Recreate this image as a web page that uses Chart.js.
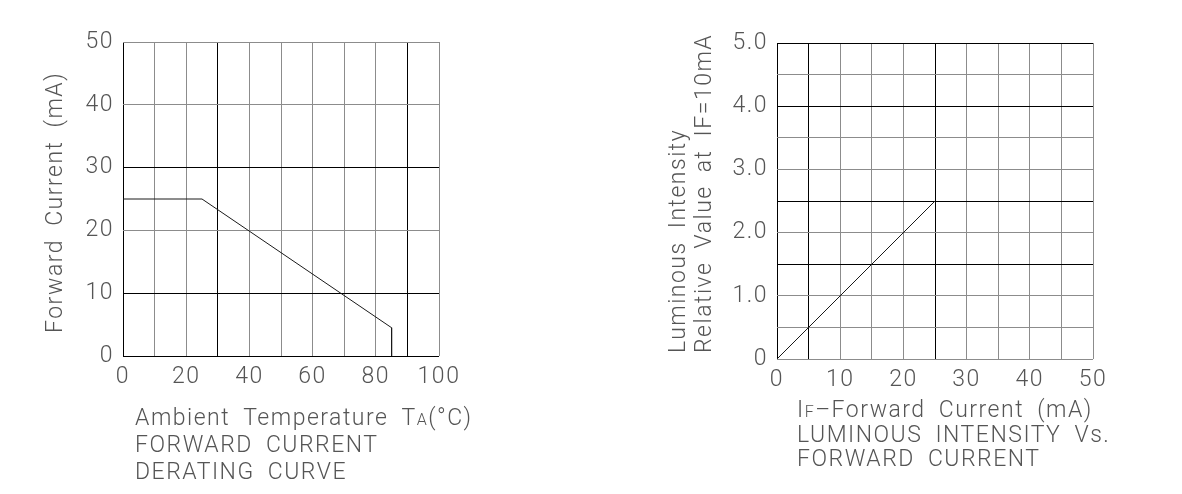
<!DOCTYPE html>
<html>
<head>
<meta charset="utf-8">
<script src="https://cdn.jsdelivr.net/npm/chart.js@4/dist/chart.umd.min.js"></script>
<style>
  html,body{margin:0;padding:0;background:#fff;}
  #wrap{position:relative;width:1182px;height:494px;overflow:hidden;}
  .box{position:absolute;top:0;width:591px;height:494px;}
  canvas{display:block;}
</style>
</head>
<body>
<div id="wrap">
  <div class="box" style="left:0"><canvas id="c1" width="591" height="494"></canvas></div>
  <div class="box" style="left:591px"><canvas id="c2" width="591" height="494"></canvas></div>
</div>
<script>
// ---------- data: derating curve ----------
const derTemp    = [0, 25, 85, 85];      // ambient temperature (°C)
const derCurrent = [25, 25, 4.5, 0];     // forward current (mA)
const derXMin = 0, derXMax = 100, derXStep = 10, derXLabelEvery = 20;
const derYMin = 0, derYMax = 50, derYStep = 10;
const derXDark = [0, 30, 90];
const derYDark = [0, 10, 30];

// ---------- data: luminous intensity vs forward current ----------
const lumCurrent = [0, 25];              // forward current (mA)
const lumRel     = [0, 2.5];             // relative luminous intensity
const lumXMin = 0, lumXMax = 50, lumXStep = 5, lumXLabelEvery = 10;
const lumYMin = 0, lumYMax = 5, lumYStep = 0.5, lumYLabelEvery = 1;
const lumXDark = [0, 5, 25];
const lumYDark = [1.5, 2.5, 4, 5];

// ---------- texts ----------
const derYTitle = ['Forward Current (mA)'];
const derXTitle = [
  [{t:'Ambient Temperature T'},{t:'A',small:true},{t:'(°C)'}],
  [{t:'FORWARD CURRENT'}],
  [{t:'DERATING CURVE'}]
];
const lumYTitle = ['Luminous Intensity', 'Relative Value at IF=10mA'];
const lumXTitle = [
  [{t:'I'},{t:'F',small:true},{t:'–Forward Current (mA)'}],
  [{t:'LUMINOUS INTENSITY Vs.'}],
  [{t:'FORWARD CURRENT'}]
];

const FONT = 'Roboto';
const FSIZE = 23;
const TXT = '#555555';
const DARK = '#000000';
const LIGHT = '#8c8c8c';
const LSP = '1.5px';
const WSP = '6px';

function gridColor(dark){
  return (c) => (c.tick && dark.some(v => Math.abs(v - c.tick.value) < 1e-9)) ? DARK : LIGHT;
}

const spacingPlugin = {
  id: 'spacing',
  beforeDraw(chart){
    chart.ctx.letterSpacing = LSP;
    chart.ctx.wordSpacing = WSP;
  }
};

function drawRich(ctx, pieces, x, y){
  let cx = x;
  for (const p of pieces){
    ctx.font = '300 ' + (p.small ? Math.round(FSIZE*0.68) : FSIZE) + 'px ' + FONT;
    ctx.fillText(p.t, cx, y);
    cx += ctx.measureText(p.t).width;
  }
}

function titlesPlugin(cfg){
  return {
    id: 'titles',
    afterDraw(chart){
      const ctx = chart.ctx;
      ctx.save();
      ctx.letterSpacing = LSP;
      ctx.wordSpacing = WSP;
      ctx.fillStyle = TXT;
      ctx.textAlign = 'left';
      ctx.textBaseline = 'alphabetic';
      cfg.x.forEach((line, i) => drawRich(ctx, line, cfg.xPos[0], cfg.xPos[1] + i*cfg.xGap));
      cfg.y.forEach((txt, i) => {
        ctx.save();
        ctx.translate(cfg.yPos[i][0], cfg.yPos[i][1]);
        ctx.rotate(-Math.PI/2);
        ctx.font = '300 ' + FSIZE + 'px ' + FONT;
        ctx.fillText(txt, 0, 0);
        ctx.restore();
      });
      ctx.restore();
    }
  };
}

function makeChart(id, o){
  const data = o.xs.map((x, i) => ({x, y: o.ys[i]}));
  return new Chart(document.getElementById(id), {
    type: 'scatter',
    data: { datasets: [{ data, showLine: true, borderColor: '#1a1a1a', borderWidth: 1,
                         pointRadius: 0, pointHoverRadius: 0, fill: false, tension: 0 }] },
    options: {
      responsive: false, animation: false, devicePixelRatio: 1,
      events: [],
      layout: { padding: o.pad },
      plugins: { legend: {display:false}, tooltip: {enabled:false}, title:{display:false} },
      scales: {
        x: {
          type: 'linear', min: o.xMin, max: o.xMax,
          border: { display: false },
          grid: { color: gridColor(o.xDark), lineWidth: 1, drawTicks: false },
          ticks: { stepSize: o.xStep, autoSkip: false, maxRotation: 0, minRotation: 0,
                   padding: 7, color: TXT,
                   font: { family: FONT, size: FSIZE, weight: '300' },
                   callback: o.xLabel },
          afterFit: s => { s.height = o.xH; }
        },
        y: {
          type: 'linear', min: o.yMin, max: o.yMax,
          border: { display: false },
          grid: { color: gridColor(o.yDark), lineWidth: 1, drawTicks: false },
          ticks: { stepSize: o.yStep, autoSkip: false, padding: 9, color: TXT,
                   font: { family: FONT, size: FSIZE, weight: '300' },
                   callback: o.yLabel },
          afterFit: s => { s.width = o.yW; }
        }
      }
    },
    plugins: [spacingPlugin, titlesPlugin(o.titles)]
  });
}

makeChart('c1', {
  xs: derTemp, ys: derCurrent,
  xMin: derXMin, xMax: derXMax, xStep: derXStep,
  yMin: derYMin, yMax: derYMax, yStep: derYStep,
  xDark: derXDark, yDark: derYDark,
  xLabel: v => (Math.abs(v % derXLabelEvery) < 1e-9 ? String(v) : ''),
  yLabel: v => String(v),
  pad: { top: 42, right: 152, left: 0, bottom: 0 },
  yW: 123, xH: 138,
  titles: { x: derXTitle, xPos: [135, 425], xGap: 27,
            y: derYTitle, yPos: [[62, 333]] }
});

makeChart('c2', {
  xs: lumCurrent, ys: lumRel,
  xMin: lumXMin, xMax: lumXMax, xStep: lumXStep,
  yMin: lumYMin, yMax: lumYMax, yStep: lumYStep,
  xDark: lumXDark, yDark: lumYDark,
  xLabel: v => (Math.abs(v % lumXLabelEvery) < 1e-9 ? String(v) : ''),
  yLabel: v => (Math.abs(v % lumYLabelEvery) < 1e-9 ? (v === 0 ? '0' : v.toFixed(1)) : ''),
  pad: { top: 43, right: 89, left: 0, bottom: 0 },
  yW: 186, xH: 135,
  titles: { x: lumXTitle, xPos: [206, 417], xGap: 24.5,
            y: lumYTitle, yPos: [[94, 353], [120, 353]] }
});
</script>
</body>
</html>
